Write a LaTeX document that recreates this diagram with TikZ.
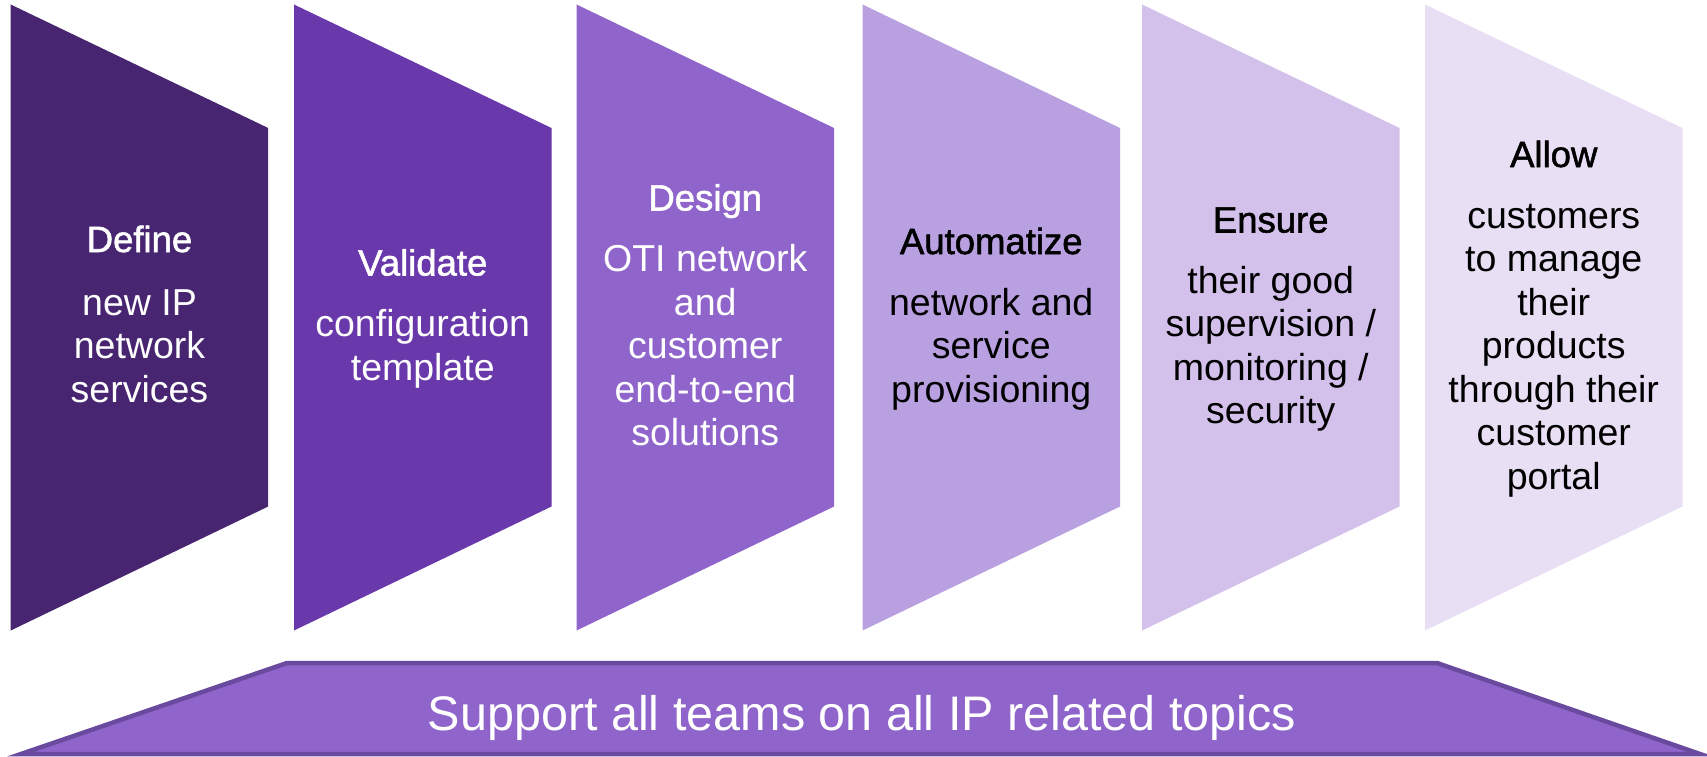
\documentclass[tikz,border=0pt]{standalone}
\usepackage{fontspec}
\setmainfont{Liberation Sans}
\newfontfamily\titlefont[FakeBold=1.5]{Liberation Sans}
\definecolor{cA}{HTML}{472570}
\definecolor{cB}{HTML}{6938AA}
\definecolor{cC}{HTML}{9065CB}
\definecolor{cD}{HTML}{B9A0E0}
\definecolor{cE}{HTML}{D4C1EB}
\definecolor{cF}{HTML}{E8DFF5}
\definecolor{bandedge}{HTML}{6A4A9E}
\tikzset{
  body/.style={anchor=base, inner sep=0pt, font=\fontsize{37.5}{43.5}\selectfont},
  ttl/.style={anchor=base, inner sep=0pt, font=\titlefont\fontsize{36.5}{43.5}\selectfont},
  band/.style={fill=cC, draw=bandedge, line width=4.5pt, line join=miter},
}
\newcommand\stageshape[2]{\fill[#2] (#1,4.5) -- ++(257.5,123.5) -- ++(0,378.5) -- ++(-257.5,124) -- cycle;}
\begin{document}
\begin{tikzpicture}[x=1pt,y=-1pt]
\useasboundingbox (0,0) rectangle (1707,757);
% stages
\stageshape{10.7}{cA}
\stageshape{294}{cB}
\stageshape{576.5}{cC}
\stageshape{862.5}{cD}
\stageshape{1142}{cE}
\stageshape{1425}{cF}
% stage 1
\begin{scope}[white]
\node[ttl] (t1) at (139.5,252) {Define};
\node[body] (b1a) at (139.5,315) {new IP};
\node[body] (b1b) at (139.5,358.5) {network};
\node[body] (b1c) at (139.5,402) {services};
% stage 2
\node[ttl] (t2) at (422.75,275.5) {Validate};
\node[body] (b2a) at (422.75,336.5) {configuration};
\node[body] (b2b) at (422.75,380) {template};
% stage 3
\node[ttl] (t3) at (705.25,210.5) {Design};
\node[body] (b3a) at (705.25,271) {OTI network};
\node[body] (b3b) at (705.25,315) {and};
\node[body] (b3c) at (705.25,358.5) {customer};
\node[body] (b3d) at (705.25,402) {end-to-end};
\node[body] (b3e) at (705.25,445.5) {solutions};
\end{scope}
\begin{scope}[black]
% stage 4
\node[ttl] (t4) at (991.25,254) {Automatize};
\node[body] (b4a) at (991.25,315) {network and};
\node[body] (b4b) at (991.25,358.5) {service};
\node[body] (b4c) at (991.25,402) {provisioning};
% stage 5
\node[ttl] (t5) at (1270.75,232.5) {Ensure};
\node[body] (b5a) at (1270.75,293) {their good};
\node[body] (b5b) at (1270.75,336.5) {supervision /};
\node[body] (b5c) at (1270.75,380) {monitoring /};
\node[body] (b5d) at (1270.75,423.5) {security};
% stage 6
\node[ttl] (t6) at (1553.75,167) {Allow};
\node[body] (b6a) at (1553.75,228) {customers};
\node[body] (b6b) at (1553.75,271) {to manage};
\node[body] (b6c) at (1553.75,315) {their};
\node[body] (b6d) at (1553.75,358.5) {products};
\node[body] (b6e) at (1553.75,402) {through their};
\node[body] (b6f) at (1553.75,445.5) {customer};
\node[body] (b6g) at (1553.75,489) {portal};
\end{scope}
% bottom band
\draw[band] (21,754) -- (287,663) -- (1437,663) -- (1700,754) -- cycle;
\node[anchor=base, inner sep=0pt, text=white, font=\fontsize{48.5}{58}\selectfont] (support) at (862,730) {Support all teams on all IP related topics};
\end{tikzpicture}
\end{document}
